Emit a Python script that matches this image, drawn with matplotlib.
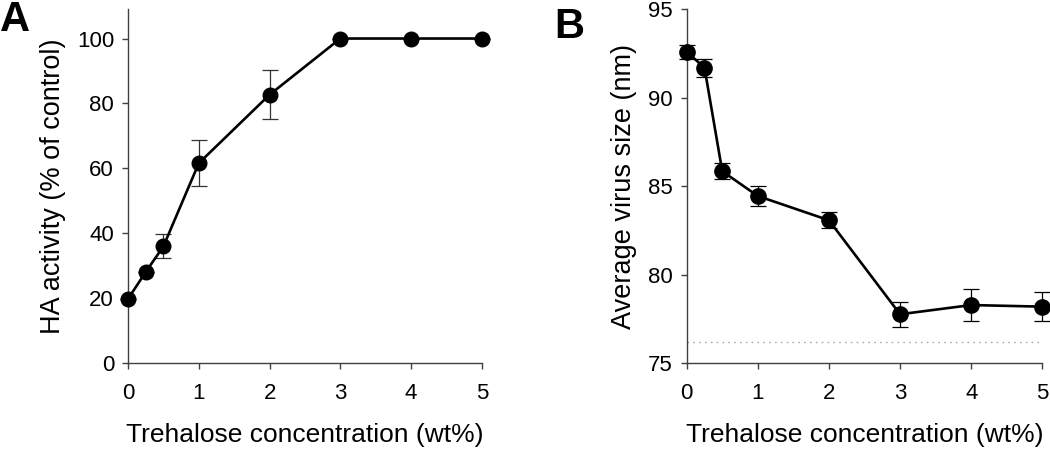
import numpy as np
import matplotlib
matplotlib.use("Agg")
from matplotlib import pyplot as plt

# panel A - HA activity
conc = [0, 0.25, 0.5, 1, 2, 3, 4, 5]
ha_activity = [19.8, 28.1, 36.0, 61.6, 82.7, 100, 100, 100]
ha_err = [0, 0, 3.7, 7.1, 7.6, 0, 0, 0]

# panel B - virus size
virus_size = [92.6, 91.7, 85.85, 84.45, 83.08, 77.77, 78.29, 78.2]
size_err = [0.4, 0.5, 0.45, 0.55, 0.45, 0.7, 0.9, 0.8]
baseline = 76.2

plt.rcParams['font.family'] = ['Liberation Sans', 'DejaVu Sans']

fig = plt.figure(figsize=(10.5, 4.49), dpi=100)
axA = fig.add_axes([0.1219, 0.1909, 0.3371, 0.7884])
axB = fig.add_axes([0.654, 0.1909, 0.3387, 0.7884])


def style(ax):
    for side in ['top', 'right']:
        ax.spines[side].set_visible(False)
    for side in ['left', 'bottom']:
        ax.spines[side].set_color('#404040')
        ax.spines[side].set_linewidth(1.0)
    ax.tick_params(axis='both', direction='out', length=4, width=1,
                   color='#404040', labelsize=16)
    ax.tick_params(axis='x', pad=10)
    ax.tick_params(axis='y', pad=6)
    ax.set_xlim(0, 5)
    ax.set_xticks([0, 1, 2, 3, 4, 5])
    ax.set_xlabel('Trehalose concentration (wt%)', fontsize=19, labelpad=14)


# A
axA.errorbar(conc, ha_activity, yerr=ha_err, color='black', lw=1.9,
             marker='o', markersize=10.5, ecolor='#333333', elinewidth=0.9,
             capsize=6, capthick=0.9, clip_on=False, zorder=3)
style(axA)
axA.set_ylim(0, 109)
axA.set_yticks([0, 20, 40, 60, 80, 100])
axA.set_ylabel('HA activity (% of control)', fontsize=19.5, labelpad=8)

# B
axB.plot([0, 5], [baseline, baseline], color='#aaaaaa', lw=1,
         linestyle=(0, (1.2, 3)), zorder=1)
axB.errorbar(conc, virus_size, yerr=size_err, color='black', lw=1.9,
             marker='o', markersize=11, ecolor='black', elinewidth=0.9,
             capsize=6, capthick=0.9, clip_on=False, zorder=3)
style(axB)
axB.set_ylim(75, 95)
axB.set_yticks([75, 80, 85, 90, 95])
axB.set_ylabel('Average virus size (nm)', fontsize=19.5, labelpad=8)

fig.text(0.0, 1.0, 'A', fontsize=30, fontweight='bold', ha='left', va='top')
fig.text(0.528, 0.985, 'B', fontsize=30, fontweight='bold', ha='left', va='top')

fig.savefig('out.png', dpi=100)
